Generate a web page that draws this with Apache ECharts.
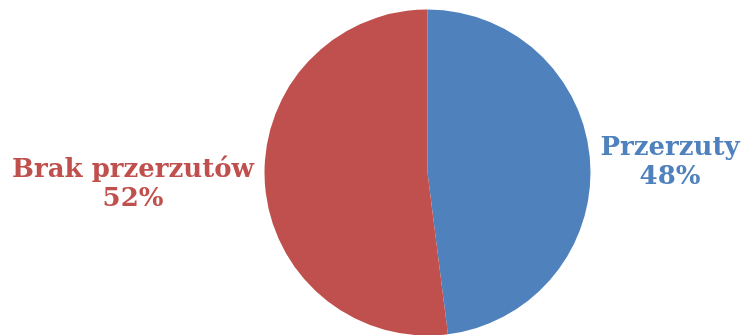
<!DOCTYPE html>
<html>
<head>
<meta charset="utf-8">
<script src="https://cdn.jsdelivr.net/npm/echarts@6/dist/echarts.min.js"></script>
<style>
html, body { margin: 0; padding: 0; background: #fff; }
#pie { width: 741px; height: 335px; }
</style>
</head>
<body>
<div id="pie"></div>
<script>
var categories = ['Przerzuty', 'Brak przerzutów'];
var values = [48, 52];
var colors = ['#4F81BD', '#C0504D'];

var pieChart = echarts.init(document.getElementById('pie'), null, {renderer: 'canvas'});

// label anchors (centre of each text block)
var labelSpots = [[670, 163], [133, 185]];

var data = categories.map(function (name, i) {
    return {
        name: name,
        value: values[i],
        itemStyle: {color: colors[i]},
        label: {color: colors[i]}
    };
});

pieChart.setOption({
    animation: false,
    series: [{
        type: 'pie',
        center: [427.5, 172.5],
        radius: 163,
        startAngle: 90,
        clockwise: true,
        data: data,
        itemStyle: {borderWidth: 0},
        label: {
            show: true,
            position: 'outside',
            alignTo: 'none',
            overflow: 'none',
            formatter: '{b}\n{d}%',
            fontFamily: 'DejaVu Serif',
            fontWeight: 'bold',
            fontSize: 26,
            lineHeight: 29,
            align: 'center'
        },
        labelLine: {show: false},
        labelLayout: function (params) {
            var p = labelSpots[params.dataIndex];
            return {x: p[0], y: p[1], align: 'center', verticalAlign: 'middle'};
        }
    }]
});
</script>
</body>
</html>
